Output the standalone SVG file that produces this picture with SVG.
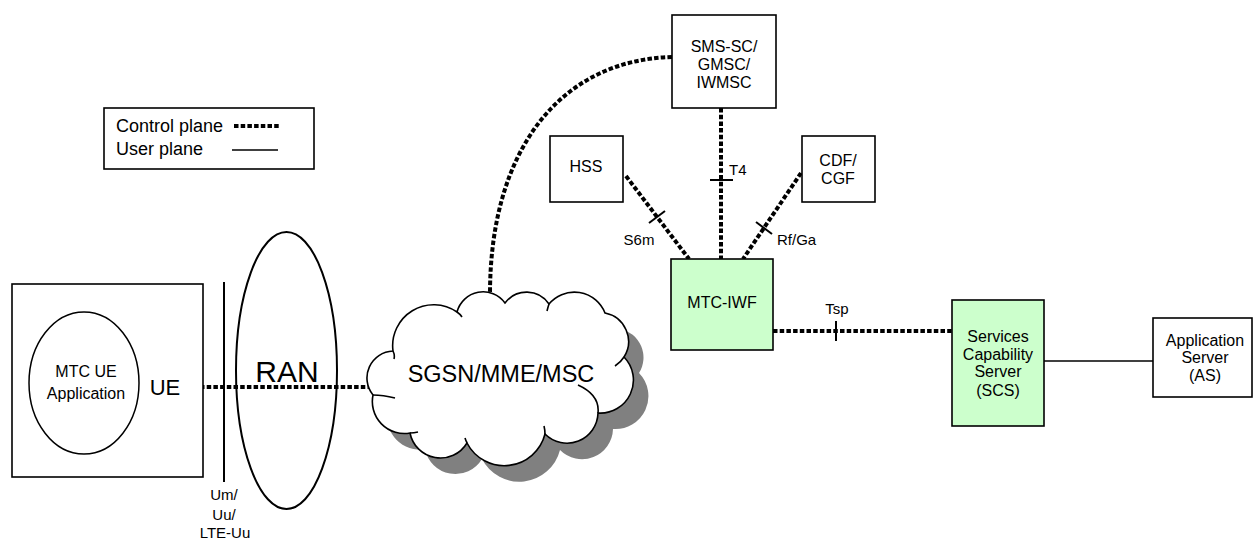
<svg xmlns="http://www.w3.org/2000/svg" width="1253" height="541" viewBox="0 0 1253 541">
<style>
.box{fill:#fff;stroke:#000;stroke-width:1.6}
.green{fill:#ccffcc;stroke:#000;stroke-width:1.6}
.cp{fill:none;stroke:#000;stroke-width:4;stroke-dasharray:4.5 2.2}
.up{fill:none;stroke:#000;stroke-width:1.4}
.tick{fill:none;stroke:#000;stroke-width:2}
text{font-family:"Liberation Sans",Arial,sans-serif;fill:#000;text-anchor:middle}
.n{font-size:16px}
.l{font-size:15px}
</style>
<defs>
<path id="cloud" d="M373,395 A27,27 0 0 1 393,351 A41,41 0 0 1 457,312 A27,27 0 0 1 505,303 A27,27 0 0 1 549,304 A33,33 0 0 1 605,313 A29,29 0 0 1 624,357 A33,33 0 0 1 598,413 A31,31 0 0 1 545,434 A42,42 0 0 1 467,443 A31,31 0 0 1 410,433 A32,32 0 0 1 373,395 Z"/>
</defs>
<g id="legend">
<rect class="box" x="104" y="108" width="210" height="61"/>
<text x="116" y="132" style="font-size:18px;text-anchor:start">Control plane</text>
<text x="116" y="155" style="font-size:18px;text-anchor:start">User plane</text>
<line class="cp" x1="234" y1="126" x2="279" y2="126"/>
<line class="up" x1="232" y1="150" x2="278" y2="150"/>
</g>
<g id="connectors">
<line class="cp" x1="200" y1="387" x2="372" y2="387"/>
<path class="cp" d="M672,57 C560,60 490,150 490,294"/>
<line class="cp" x1="721" y1="108" x2="721" y2="259"/>
<line class="cp" x1="626" y1="176" x2="689" y2="259"/>
<line class="cp" x1="801" y1="173" x2="743" y2="259"/>
<line class="cp" x1="773" y1="331" x2="952" y2="331"/>
<line class="up" x1="1044" y1="361" x2="1153" y2="361"/>
<line class="tick" x1="710" y1="180" x2="733" y2="180"/>
<line class="tick" x1="649" y1="223" x2="665" y2="211"/>
<line class="tick" x1="756" y1="222" x2="772" y2="234"/>
<line class="tick" x1="836" y1="321" x2="836" y2="341"/>
<text class="l" x="729" y="175" style="text-anchor:start">T4</text>
<text class="l" x="639" y="245">S6m</text>
<text class="l" x="777" y="245" style="text-anchor:start">Rf/Ga</text>
<text class="l" x="837" y="314">Tsp</text>
</g>
<g id="ue">
<rect class="box" x="12" y="284" width="191" height="193"/>
<ellipse cx="84" cy="383" rx="55" ry="71" fill="none" stroke="#000" stroke-width="1.5"/>
<text class="n" x="86" y="377">MTC UE</text>
<text class="n" x="86" y="399">Application</text>
<text x="165" y="395" style="font-size:22px">UE</text>
</g>
<g id="air-interface">
<line x1="224" y1="282" x2="224" y2="482" stroke="#000" stroke-width="2"/>
<text class="l" x="224" y="500">Um/</text>
<text class="l" x="224" y="520">Uu/</text>
<text class="l" x="225" y="538">LTE-Uu</text>
</g>
<g id="ran">
<ellipse cx="286.5" cy="370.5" rx="50.5" ry="138.5" fill="none" stroke="#000" stroke-width="2"/>
<text x="287" y="382" style="font-size:30px">RAN</text>
</g>
<g id="core">
<use href="#cloud" transform="translate(15,16)" fill="#808080"/>
<use href="#cloud" fill="#fff" stroke="#000" stroke-width="1.6"/>
<path fill="none" stroke="#000" stroke-width="1.6" d="M373,395 q10,0 22,3 M393,351 q2,4 1,8 M457,312 q3,2 5,5 M549,304 q-1,3 -2,7 M624,357 q-3,5 -9,9 M598,413 q2,-18 -20,-28 M545,434 q0,-4 -1,-8 M467,443 q-1,-2 -2,-5 M410,433 q4,0 8,-1"/>
<text x="501" y="382" style="font-size:23.5px">SGSN/MME/MSC</text>
</g>
<g id="sms-sc">
<rect class="box" x="672" y="15" width="104" height="93"/>
<text class="n" x="724" y="52">SMS-SC/</text>
<text class="n" x="724" y="70">GMSC/</text>
<text class="n" x="724" y="88">IWMSC</text>
</g>
<g id="hss">
<rect class="box" x="550" y="136" width="73" height="66"/>
<text class="n" x="586" y="172">HSS</text>
</g>
<g id="cdf">
<rect class="box" x="802" y="136" width="73" height="66"/>
<text class="n" x="838" y="166">CDF/</text>
<text class="n" x="838" y="184">CGF</text>
</g>
<g id="mtc-iwf">
<rect class="green" x="671" y="259" width="102" height="91"/>
<text class="n" x="722" y="308">MTC-IWF</text>
</g>
<g id="scs">
<rect class="green" x="952" y="300" width="92" height="126"/>
<text class="n" x="998" y="342">Services</text>
<text class="n" x="998" y="360">Capability</text>
<text class="n" x="998" y="377">Server</text>
<text class="n" x="998" y="396">(SCS)</text>
</g>
<g id="as">
<rect class="box" x="1153" y="318" width="99" height="79"/>
<text class="n" x="1205" y="346">Application</text>
<text class="n" x="1205" y="363">Server</text>
<text class="n" x="1205" y="381">(AS)</text>
</g>
</svg>
